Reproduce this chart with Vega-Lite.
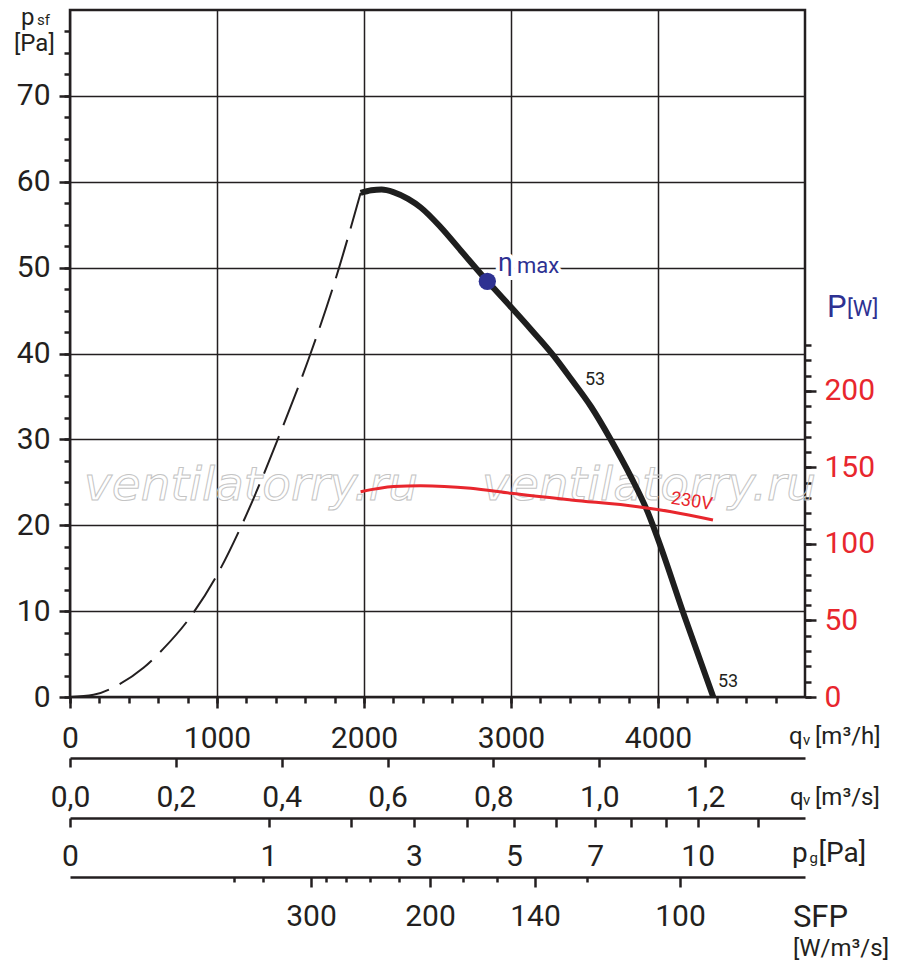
{
  "$schema": "https://vega.github.io/schema/vega-lite/v6.json",
  "width": 735,
  "height": 687,
  "autosize": {"type": "none"},
  "padding": {"left": 70, "top": 10, "right": 95, "bottom": 270},
  "background": "white",
  "config": {
    "font": "Roboto",
    "view": {"stroke": "#231f20", "strokeWidth": 2.5},
    "axis": {
      "labelFont": "Roboto",
      "labelFontSize": 30,
      "labelColor": "#231f20",
      "tickColor": "#231f20",
      "domainColor": "#231f20",
      "tickWidth": 2.5,
      "domainWidth": 2.5,
      "labelFlush": false,
      "labelOverlap": false,
      "labelBound": false,
      "grid": false
    }
  },
  "resolve": {
    "scale": {"x": "independent", "y": "independent"},
    "axis": {"x": "independent", "y": "independent"}
  },
  "layer": [
    {
      "resolve": {"axis": {"x": "independent", "y": "independent"}},
      "layer": [
        {
          "data": {"values": [
            {"text": "ventilatorry.ru", "q": 1231, "p": 22.9},
            {"text": "ventilatorry.ru", "q": 3939, "p": 22.9}
          ]},
          "mark": {"type": "text", "font": "DejaVu Sans", "fontStyle": "italic", "fontSize": 47, "fill": "transparent", "stroke": "#c4c4c4", "strokeWidth": 1, "align": "center", "baseline": "alphabetic"},
          "encoding": {
            "x": {"field": "q", "type": "quantitative", "scale": {"domain": [0, 5000], "nice": false}, "axis": null},
            "y": {"field": "p", "type": "quantitative", "scale": {"domain": [0, 80], "nice": false}, "axis": null},
            "text": {"field": "text"}
          }
        },
        {
          "data": {"values": [
            {"q": 0, "p": 0}, {"q": 160, "p": 0.25}, {"q": 327, "p": 1.4}, {"q": 500, "p": 3.4},
            {"q": 634, "p": 5.6}, {"q": 818, "p": 9.3}, {"q": 1000, "p": 14.2}, {"q": 1157, "p": 19.6},
            {"q": 1300, "p": 25.2}, {"q": 1418, "p": 30.2}, {"q": 1622, "p": 39.3}, {"q": 1800, "p": 48.3},
            {"q": 1977, "p": 58.7}
          ]},
          "mark": {"type": "line", "interpolate": "monotone", "strokeDash": [40, 12], "strokeWidth": 2, "color": "#231f20"},
          "encoding": {
            "x": {"field": "q", "type": "quantitative", "scale": {"domain": [0, 5000], "nice": false},
              "axis": {"orient": "bottom", "title": null, "labels": false, "domain": false, "tickSize": 6,
                "values": [0,200,400,600,800,1000,1200,1400,1600,1800,2000,2200,2400,2600,2800,3000,3200,3400,3600,3800,4000,4200,4400,4600,4800]}},
            "y": {"field": "p", "type": "quantitative", "scale": {"domain": [0, 80], "nice": false},
              "axis": {"orient": "left", "title": null, "labels": false, "domain": false, "tickSize": 6,
                "values": [0,2.5,5,7.5,10,12.5,15,17.5,20,22.5,25,27.5,30,32.5,35,37.5,40,42.5,45,47.5,50,52.5,55,57.5,60,62.5,65,67.5,70,72.5,75,77.5]}}
          }
        },
        {
          "data": {"values": [
            {"q": 1977, "p": 58.7}, {"q": 2050, "p": 59.0}, {"q": 2120, "p": 59.1}, {"q": 2200, "p": 58.8},
            {"q": 2300, "p": 58.0}, {"q": 2386, "p": 57.0}, {"q": 2522, "p": 54.7}, {"q": 2658, "p": 52.0},
            {"q": 2840, "p": 48.4}, {"q": 3000, "p": 45.4}, {"q": 3136, "p": 42.8}, {"q": 3292, "p": 39.7},
            {"q": 3410, "p": 37.0}, {"q": 3545, "p": 33.8}, {"q": 3681, "p": 29.9}, {"q": 3817, "p": 25.6},
            {"q": 3931, "p": 21.5}, {"q": 4010, "p": 17.9}, {"q": 4180, "p": 9.4}, {"q": 4376, "p": 0}
          ]},
          "mark": {"type": "line", "interpolate": "monotone", "strokeWidth": 6, "color": "#1e1e1e"},
          "encoding": {
            "x": {"field": "q", "type": "quantitative", "scale": {"domain": [0, 5000], "nice": false},
              "axis": {"orient": "bottom", "title": null, "domain": false, "tickSize": 11, "labelPadding": 15, "format": "d",
                "values": [0, 1000, 2000, 3000, 4000], "grid": true, "gridColor": "#231f20", "gridWidth": 1.5, "gridOpacity": 1}},
            "y": {"field": "p", "type": "quantitative", "scale": {"domain": [0, 80], "nice": false},
              "axis": {"orient": "left", "title": null, "domain": false, "tickSize": 11, "labelPadding": 9,
                "values": [0, 10, 20, 30, 40, 50, 60, 70], "grid": true, "gridColor": "#231f20", "gridWidth": 1.5, "gridOpacity": 1}}
          }
        },
        {
          "data": {"values": [{"q": 2839, "p": 48.4}]},
          "mark": {"type": "point", "filled": true, "size": 300, "color": "#2e3192", "opacity": 1},
          "encoding": {
            "x": {"field": "q", "type": "quantitative", "scale": {"domain": [0, 5000], "nice": false}, "axis": null},
            "y": {"field": "p", "type": "quantitative", "scale": {"domain": [0, 80], "nice": false}, "axis": null}
          }
        },
        {
          "data": {"values": [{"text": "η", "q": 2912, "p": 49.6}]},
          "mark": {"type": "text", "fontSize": 26, "align": "left", "baseline": "alphabetic", "stroke": "white", "strokeWidth": 8, "color": "white"},
          "encoding": {
            "x": {"field": "q", "type": "quantitative", "scale": {"domain": [0, 5000], "nice": false}, "axis": null},
            "y": {"field": "p", "type": "quantitative", "scale": {"domain": [0, 80], "nice": false}, "axis": null},
            "text": {"field": "text"}
          }
        },
        {
          "data": {"values": [{"text": "max", "q": 3041, "p": 49.37}]},
          "mark": {"type": "text", "fontSize": 22, "align": "left", "baseline": "alphabetic", "stroke": "white", "strokeWidth": 8, "color": "white"},
          "encoding": {
            "x": {"field": "q", "type": "quantitative", "scale": {"domain": [0, 5000], "nice": false}, "axis": null},
            "y": {"field": "p", "type": "quantitative", "scale": {"domain": [0, 80], "nice": false}, "axis": null},
            "text": {"field": "text"}
          }
        },
        {
          "data": {"values": [{"text": "η", "q": 2912, "p": 49.6}]},
          "mark": {"type": "text", "fontSize": 26, "align": "left", "baseline": "alphabetic", "color": "#2e3192"},
          "encoding": {
            "x": {"field": "q", "type": "quantitative", "scale": {"domain": [0, 5000], "nice": false}, "axis": null},
            "y": {"field": "p", "type": "quantitative", "scale": {"domain": [0, 80], "nice": false}, "axis": null},
            "text": {"field": "text"}
          }
        },
        {
          "data": {"values": [{"text": "max", "q": 3041, "p": 49.37}]},
          "mark": {"type": "text", "fontSize": 22, "align": "left", "baseline": "alphabetic", "color": "#2e3192"},
          "encoding": {
            "x": {"field": "q", "type": "quantitative", "scale": {"domain": [0, 5000], "nice": false}, "axis": null},
            "y": {"field": "p", "type": "quantitative", "scale": {"domain": [0, 80], "nice": false}, "axis": null},
            "text": {"field": "text"}
          }
        },
        {
          "data": {"values": [
            {"text": "53", "q": 3503, "p": 36.3},
            {"text": "53", "q": 4408, "p": 1.2}
          ]},
          "mark": {"type": "text", "fontSize": 18, "align": "left", "baseline": "alphabetic", "color": "#231f20"},
          "encoding": {
            "x": {"field": "q", "type": "quantitative", "scale": {"domain": [0, 5000], "nice": false}, "axis": null},
            "y": {"field": "p", "type": "quantitative", "scale": {"domain": [0, 80], "nice": false}, "axis": null},
            "text": {"field": "text"}
          }
        },
        {
          "data": {"values": [
            {"text": "p", "q": -333, "p": 78.25},
            {"text": "[Pa]", "q": -381, "p": 75.2},
            {"text": "q", "q": 4891, "p": -5.47},
            {"text": "[m³/h]", "q": 5068, "p": -5.47},
            {"text": "q", "q": 4898, "p": -12.58},
            {"text": "[m³/s]", "q": 5068, "p": -12.58},
            {"text": "[W/m³/s]", "q": 4918, "p": -30.16}
          ]},
          "mark": {"type": "text", "fontSize": 24, "align": "left", "baseline": "alphabetic", "color": "#231f20"},
          "encoding": {
            "x": {"field": "q", "type": "quantitative", "scale": {"domain": [0, 5000], "nice": false}, "axis": null},
            "y": {"field": "p", "type": "quantitative", "scale": {"domain": [0, 80], "nice": false}, "axis": null},
            "text": {"field": "text"}
          }
        },
        {
          "data": {"values": [
            {"text": "p", "q": 4912, "p": -19.21},
            {"text": "[Pa]", "q": 5092, "p": -19.21}
          ]},
          "mark": {"type": "text", "fontSize": 28, "align": "left", "baseline": "alphabetic", "color": "#231f20"},
          "encoding": {
            "x": {"field": "q", "type": "quantitative", "scale": {"domain": [0, 5000], "nice": false}, "axis": null},
            "y": {"field": "p", "type": "quantitative", "scale": {"domain": [0, 80], "nice": false}, "axis": null},
            "text": {"field": "text"}
          }
        },
        {
          "data": {"values": [
            {"text": "sf", "q": -224, "p": 78.25},
            {"text": "v", "q": 4986, "p": -5.6},
            {"text": "v", "q": 4986, "p": -12.6},
            {"text": "g", "q": 5030, "p": -19.3}
          ]},
          "mark": {"type": "text", "fontSize": 15, "align": "left", "baseline": "alphabetic", "color": "#231f20"},
          "encoding": {
            "x": {"field": "q", "type": "quantitative", "scale": {"domain": [0, 5000], "nice": false}, "axis": null},
            "y": {"field": "p", "type": "quantitative", "scale": {"domain": [0, 80], "nice": false}, "axis": null},
            "text": {"field": "text"}
          }
        },
        {
          "data": {"values": [{"text": "SFP", "q": 4918, "p": -26.78}]},
          "mark": {"type": "text", "fontSize": 31, "align": "left", "baseline": "alphabetic", "color": "#231f20"},
          "encoding": {
            "x": {"field": "q", "type": "quantitative", "scale": {"domain": [0, 5000], "nice": false}, "axis": null},
            "y": {"field": "p", "type": "quantitative", "scale": {"domain": [0, 80], "nice": false}, "axis": null},
            "text": {"field": "text"}
          }
        },
        {
          "data": {"values": [{"text": "P", "q": 5150, "p": 44.25}]},
          "mark": {"type": "text", "fontSize": 31, "align": "left", "baseline": "alphabetic", "color": "#2e3192"},
          "encoding": {
            "x": {"field": "q", "type": "quantitative", "scale": {"domain": [0, 5000], "nice": false}, "axis": null},
            "y": {"field": "p", "type": "quantitative", "scale": {"domain": [0, 80], "nice": false}, "axis": null},
            "text": {"field": "text"}
          }
        },
        {
          "data": {"values": [{"text": "[W]", "q": 5285, "p": 44.37}]},
          "mark": {"type": "text", "fontSize": 22, "align": "left", "baseline": "alphabetic", "color": "#2e3192"},
          "encoding": {
            "x": {"field": "q", "type": "quantitative", "scale": {"domain": [0, 5000], "nice": false}, "axis": null},
            "y": {"field": "p", "type": "quantitative", "scale": {"domain": [0, 80], "nice": false}, "axis": null},
            "text": {"field": "text"}
          }
        }
      ]
    },
    {
      "resolve": {"axis": {"y": "independent"}},
      "layer": [
        {
          "data": {"values": [
            {"q": 1977, "P": 134.2}, {"q": 2202, "P": 137.5}, {"q": 2386, "P": 138.1}, {"q": 2727, "P": 136.4},
            {"q": 3000, "P": 133.1}, {"q": 3408, "P": 128.8}, {"q": 3863, "P": 124.4}, {"q": 4090, "P": 121.1},
            {"q": 4374, "P": 115.7}
          ]},
          "mark": {"type": "line", "interpolate": "monotone", "strokeWidth": 3, "color": "#e8262d"},
          "encoding": {
            "x": {"field": "q", "type": "quantitative", "scale": {"domain": [0, 5000], "nice": false}, "axis": null},
            "y": {"field": "P", "type": "quantitative", "scale": {"domain": [0, 449], "nice": false},
              "axis": {"orient": "right", "title": null, "domain": false, "tickSize": 11, "labelPadding": 8,
                "labelColor": "#e8262d", "values": [0, 50, 100, 150, 200]}}
          }
        },
        {
          "data": {"values": [{"text": "230V", "q": 4229, "P": 127.6}]},
          "mark": {"type": "text", "fontSize": 18, "angle": 9, "align": "center", "baseline": "middle", "color": "#e8262d"},
          "encoding": {
            "x": {"field": "q", "type": "quantitative", "scale": {"domain": [0, 5000], "nice": false}, "axis": null},
            "y": {"field": "P", "type": "quantitative", "scale": {"domain": [0, 449], "nice": false},
              "axis": {"orient": "right", "title": null, "domain": false, "labels": false, "tickSize": 6,
                "values": [0,10,20,30,40,50,60,70,80,90,100,110,120,130,140,150,160,170,180,190,200,210,220,230]}},
            "text": {"field": "text"}
          }
        }
      ]
    },
    {
      "data": {"values": [{"qs": 0}, {"qs": 1.3889}]},
      "mark": {"type": "rule", "opacity": 0},
      "encoding": {
        "x": {"field": "qs", "type": "quantitative", "scale": {"domain": [0, 1.3889], "nice": false, "zero": false},
          "axis": {"orient": "bottom", "offset": 61, "title": null, "values": [0, 0.2, 0.4, 0.6, 0.8, 1, 1.2],
            "format": ".1f", "labelExpr": "replace(datum.label, '.', ',')", "tickSize": 9, "labelPadding": 15}}
      }
    },
    {
      "data": {"values": [{"pg": 0}, {"pg": 13.71}]},
      "mark": {"type": "rule", "opacity": 0},
      "encoding": {
        "x": {"field": "pg", "type": "quantitative", "scale": {"type": "sqrt", "domain": [0, 13.71], "nice": false},
          "axis": {"orient": "bottom", "offset": 121, "title": null, "values": [0, 1, 2, 3, 4, 5, 6, 7, 8, 9, 10, 12],
            "labelExpr": "datum.value == 0 || datum.value == 1 || datum.value == 3 || datum.value == 5 || datum.value == 7 || datum.value == 10 ? datum.label : ''",
            "tickSize": 9, "labelPadding": 14}}
      }
    },
    {
      "data": {"values": [{"sfp": 300}, {"sfp": 100}]},
      "mark": {"type": "rule", "opacity": 0},
      "encoding": {
        "x": {"field": "sfp", "type": "quantitative",
          "scale": {"domain": [2000, 500, 400, 300, 280, 260, 240, 220, 200, 180, 160, 140, 120, 100, 80],
            "range": [0, 164, 193, 241, 256, 276, 300, 329, 360, 393, 427, 465, 517, 610, 735], "nice": false, "zero": false},
          "axis": {"orient": "bottom", "offset": 180, "title": null, "values": [300, 200, 140, 100], "tickSize": 10, "labelPadding": 14}}
      }
    },
    {
      "data": {"values": [{"sfp": 300}, {"sfp": 100}]},
      "mark": {"type": "rule", "opacity": 0},
      "encoding": {
        "x": {"field": "sfp", "type": "quantitative",
          "scale": {"domain": [2000, 500, 400, 300, 280, 260, 240, 220, 200, 180, 160, 140, 120, 100, 80],
            "range": [0, 164, 193, 241, 256, 276, 300, 329, 360, 393, 427, 465, 517, 610, 735], "nice": false, "zero": false},
          "axis": {"orient": "bottom", "offset": 180, "title": null, "labels": false, "domain": false,
            "values": [500, 400, 280, 260, 240, 220, 180, 160, 120], "tickSize": 5}}
      }
    }
  ]
}
